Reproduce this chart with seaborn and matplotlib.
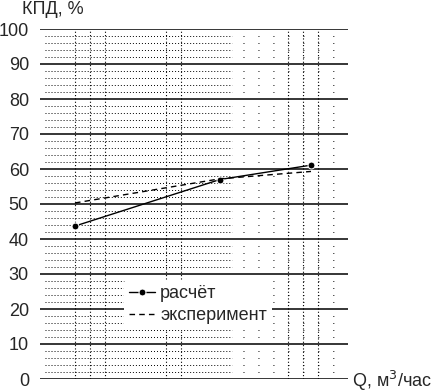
import matplotlib
matplotlib.use("Agg")
import matplotlib.pyplot as plt
import seaborn as sns
import pandas as pd
import numpy as np

# ---- data ----
q_calc = [3.5, 18.0, 27.1]
kpd_calc = [43.7, 57.0, 61.1]
q_exp = [3.5, 18.0, 27.1]
kpd_exp = [50.3, 57.2, 59.3]
y_ticks = [0, 10, 20, 30, 40, 50, 60, 70, 80, 90, 100]
v_grid = [3.5, 5.0, 6.5, 12.6, 14.1, 24.8, 26.3, 27.8]
series_names = ["расчёт", "эксперимент"]

sns.set_style("white")
plt.rcParams['font.family'] = ['Liberation Sans', 'DejaVu Sans']

df_calc = pd.DataFrame({"Q": q_calc, "КПД": kpd_calc})
df_exp = pd.DataFrame({"Q": q_exp, "КПД": kpd_exp})

fig = plt.figure(figsize=(4.37, 3.92), dpi=100)
ax = fig.add_axes([40 / 437, 13 / 392, 308 / 437, 350 / 392])

# minor dotted horizontal grid
minor = [v for v in np.arange(2, 100, 2) if v % 10 != 0]
for v in minor:
    ax.plot([0.5, 19.2], [v, v], color="black", lw=0.7,
            linestyle=(0, (1.0, 2.1)), zorder=1)
    ax.plot([20.3, 30.0], [v, v], color="black", lw=0.7,
            linestyle=(0, (1.0, 14.4)), zorder=1)
# vertical dotted grid
for xv in v_grid:
    ax.axvline(xv, color="black", lw=0.8, linestyle=(0, (1.0, 2.0)), zorder=1)
# major horizontal grid
for v in y_ticks:
    ax.axhline(v, color="black", lw=1.1, zorder=2)

sns.lineplot(data=df_calc, x="Q", y="КПД", color="black", marker="o",
             markersize=5, linewidth=1.0, label=series_names[0], ax=ax, zorder=3)
sns.lineplot(data=df_exp, x="Q", y="КПД", color="black", linestyle=(0, (4, 3)),
             linewidth=1.0, label=series_names[1], ax=ax, zorder=3)

ax.set_xlim(0, 30.8)
ax.set_ylim(0, 100)
for s in ax.spines.values():
    s.set_visible(False)
ax.set_xticks([])
ax.set_yticks(y_ticks)
ax.tick_params(axis="y", length=0, pad=8, labelsize=13)
ax.set_xlabel("")
ax.set_ylabel("")

leg = ax.legend(loc="upper left", bbox_to_anchor=(0.243, 0.31), fontsize=13,
                frameon=True, handlelength=1.4, handletextpad=0.3,
                borderpad=0.3, labelspacing=0.3)
leg.get_frame().set_edgecolor("none")
leg.get_frame().set_facecolor("white")
leg.get_frame().set_alpha(1)
leg.set_zorder(5)

fig.text(22 / 437, 1 - 10 / 392, "КПД, %", fontsize=13, va="center", ha="left")
fig.text(352 / 437, 1 - 381 / 392, "Q, м$^3$/час", fontsize=13, va="center", ha="left")

fig.savefig("out.png", dpi=100)
